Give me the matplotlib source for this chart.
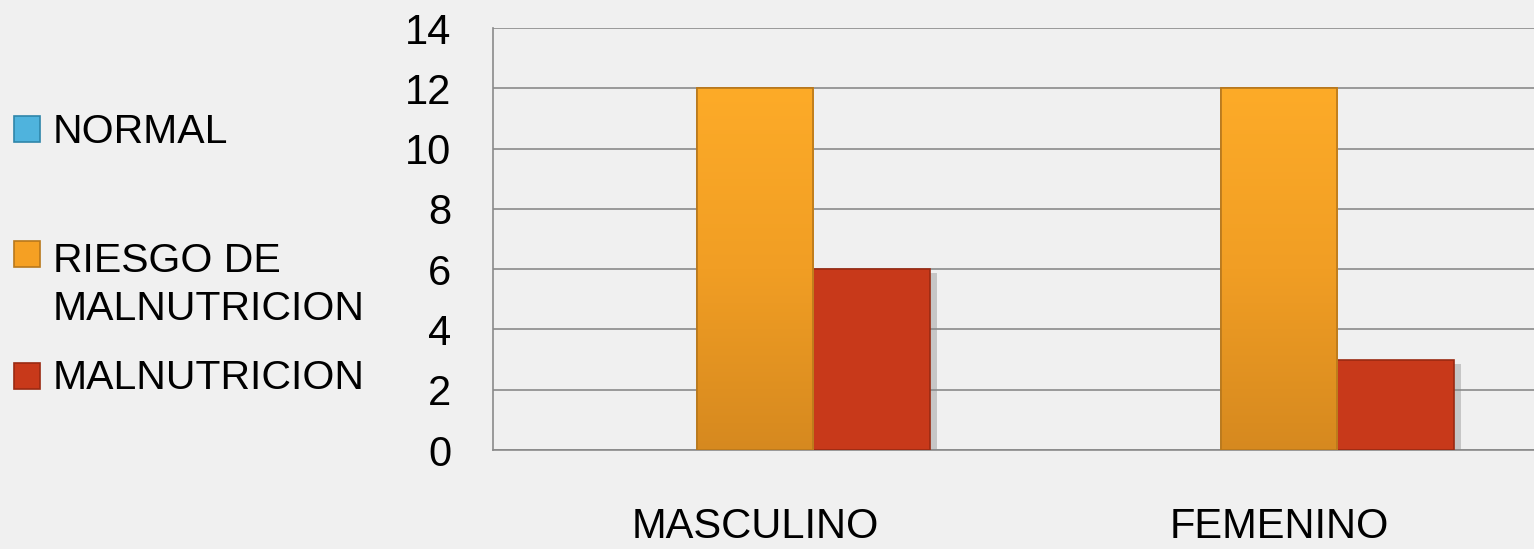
import matplotlib
matplotlib.use("Agg")
import matplotlib.pyplot as plt
import numpy as np
from matplotlib.patches import Rectangle
import matplotlib.patheffects as pe
from matplotlib.colors import LinearSegmentedColormap

categories = ["MASCULINO", "FEMENINO"]
series_names = ["NORMAL", "RIESGO DE\nMALNUTRICION", "MALNUTRICION"]
normal = [0, 0]
riesgo = [12, 12]
malnutricion = [6, 3]
y_ticks = [0, 2, 4, 6, 8, 10, 12, 14]

values = [normal, riesgo, malnutricion]
colors = ["#4FB3DD", "#F5A023", "#C8391A"]
edge_colors = ["#2F86AA", "#B8781C", "#9A2A12"]

plt.rcParams['font.family'] = ['Liberation Sans', 'DejaVu Sans']
bg = "#f0f0f0"
fig = plt.figure(figsize=(15.34, 5.49), dpi=100, facecolor=bg)
W, H = 1534, 549
left, right, top, bottom = 493, 1541, 28, 450
ax = fig.add_axes([left / W, 1 - bottom / H, (right - left) / W, (bottom - top) / H])
ax.set_facecolor(bg)

x = np.arange(len(categories))
bw = 0.223
offsets = [-bw, 0, bw]
grad = np.linspace(0, 1, 256).reshape(-1, 1)
orange_cmap = LinearSegmentedColormap.from_list("og", ["#D6891F", "#F19E24", "#FDAB28"])

for i, (vals, off) in enumerate(zip(values, offsets)):
    bars = ax.bar(x + off, vals, width=bw, color=colors[i], edgecolor=edge_colors[i],
                  linewidth=1.2, zorder=3)
    for b in bars:
        if b.get_height() <= 0:
            b.set_linewidth(0)
            continue
        if i == 2:
            b.set_path_effects([pe.SimplePatchShadow(offset=(5, -3), shadow_rgbFace="#888888", alpha=0.4),
                                pe.Normal()])
        if i == 1:
            bx, by = b.get_x(), b.get_y()
            im = ax.imshow(grad, cmap=orange_cmap, aspect='auto', origin='lower',
                           extent=[bx, bx + b.get_width(), by, by + b.get_height()], zorder=3.5)
            im.set_clip_path(b)
            ax.bar(b.get_x() + b.get_width() / 2, b.get_height(), width=b.get_width(),
                   facecolor='none', edgecolor=edge_colors[i], linewidth=1.2, zorder=4)

ax.set_xlim(-0.5, len(categories) - 0.5)
ax.set_ylim(0, 14)
ax.set_yticks(y_ticks)
ax.set_yticklabels([str(t) for t in y_ticks], fontsize=30)
ax.set_xticks(x)
ax.set_xticklabels(categories, fontsize=30)
ax.tick_params(axis='y', length=0, pad=30)
ax.tick_params(axis='x', length=0, pad=41)
ax.yaxis.grid(True, color="#8a8a8a", linewidth=1.2, zorder=0)
ax.set_axisbelow(True)
for s in ["top", "right"]:
    ax.spines[s].set_visible(False)
for s in ["left", "bottom"]:
    ax.spines[s].set_color("#8a8a8a")
    ax.spines[s].set_linewidth(1.2)

# legend drawn manually
sq_centers = [129, 254, 376]
text_centers = [132, 285, 378]
for name, c, ec, sy, ty in zip(series_names, colors, edge_colors, sq_centers, text_centers):
    fig.patches.append(Rectangle((14 / W, 1 - (sy + 13) / H), 26 / W, 26 / H,
                                 transform=fig.transFigure, facecolor=c, edgecolor=ec, linewidth=1.2))
    fig.text(53 / W, 1 - ty / H, name, fontsize=29.5, va='center', ha='left',
             linespacing=1.32)

fig.savefig("out.png", dpi=100, facecolor=bg)
